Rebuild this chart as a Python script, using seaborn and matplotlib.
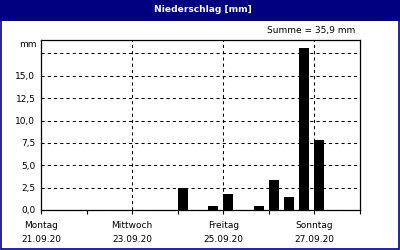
import matplotlib
matplotlib.use("Agg")
import matplotlib.pyplot as plt
from matplotlib.patches import Rectangle
import seaborn as sns
import pandas as pd
import numpy as np

# 8-hour precipitation totals, start hour counted from Monday 21.09.20 00:00
start_hours = [72, 80, 88, 96, 104, 112, 120, 128, 136, 144]
precip_mm = [2.5, 0.0, 0.4, 1.8, 0.0, 0.4, 3.4, 1.5, 18.1, 7.8]
total_label = "Summe = 35,9 mm"

day_names = ["Montag", "Mittwoch", "Freitag", "Sonntag"]
day_dates = ["21.09.20", "23.09.20", "25.09.20", "27.09.20"]
y_ticks = [0.0, 2.5, 5.0, 7.5, 10.0, 12.5, 15.0, 17.5]

interval_h = 8
bar_frac = 0.66
navy = "#000080"

sns.set_theme(style="white")
plt.rcParams["font.family"] = ["DejaVu Sans"]
plt.rcParams["text.color"] = "black"
plt.rcParams["xtick.color"] = "black"
plt.rcParams["ytick.color"] = "black"

fig = plt.figure(figsize=(4, 2.5), dpi=100)
fig.patch.set_facecolor("white")

# title bar and frame
fig.patches.append(Rectangle((0, 1 - 21 / 250), 1, 21 / 250, transform=fig.transFigure,
                             facecolor=navy, edgecolor="none", zorder=0))
fig.patches.append(Rectangle((0.5 / 400, 1.5 / 250), 398.5 / 400, 247 / 250, transform=fig.transFigure,
                             facecolor="none", edgecolor=navy, linewidth=1.2, zorder=5))
fig.text(0.507, 1 - 9 / 250, "Niederschlag [mm]", color="white", fontsize=6.6,
         fontweight="bold", ha="center", va="center")

ax = fig.add_axes([41 / 400, 40 / 250, 319 / 400, 170 / 250])
ax.set_facecolor("white")

df = pd.DataFrame({
    "mitte": [h + interval_h * bar_frac / 2 for h in start_hours],
    "mm": precip_mm,
})
sns.barplot(data=df, x="mitte", y="mm", native_scale=True, width=bar_frac,
            color="black", saturation=1, errorbar=None, linewidth=0, ax=ax)

ax.set_xlim(0, 168)
ax.set_ylim(0, 19.0)

ax.set_xticks([0, 48, 96, 144])
ax.set_xticklabels([f"{n}\n{d}" for n, d in zip(day_names, day_dates)],
                   fontsize=6.5, linespacing=1.75)
ax.set_xticks(np.arange(0, 169, 24), minor=True)
ax.tick_params(axis="x", which="both", direction="out", length=3, width=0.8,
               color="black", pad=5, bottom=True)

ax.set_yticks(y_ticks)
ax.set_yticklabels([f"{v:.1f}".replace(".", ",") if v <= 15 else "" for v in y_ticks],
                   fontsize=6.5)
ax.tick_params(axis="y", length=0, pad=4, left=True)

ax.set_xlabel("")
ax.set_ylabel("")

ax.grid(True, axis="y", color="black", linestyle=(0, (3, 3)), linewidth=0.75)
ax.grid(True, axis="x", which="major", color="black", linestyle=(0, (3, 3)), linewidth=0.75)
ax.set_axisbelow(True)

for s in ax.spines.values():
    s.set_visible(True)
    s.set_color("black")
    s.set_linewidth(0.9)

fig.text(37 / 400, 1 - 45 / 250, "mm", fontsize=6.5, ha="right", va="center")
fig.text(355 / 400, 1 - 31 / 250, total_label, fontsize=6.5, ha="right", va="center")

fig.savefig("out.png", dpi=100, facecolor=fig.get_facecolor())
